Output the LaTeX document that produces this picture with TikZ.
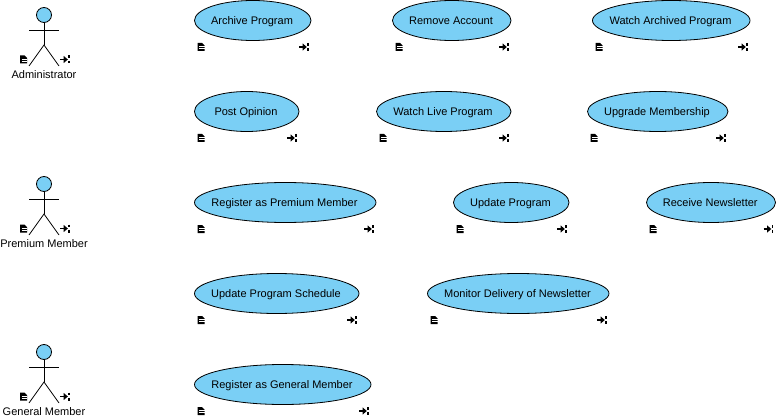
\documentclass[tikz,border=0pt]{standalone}
\usepackage{fontspec}
\setmainfont{Liberation Sans}
\definecolor{ucfill}{RGB}{122,207,245}
\usetikzlibrary{shapes.geometric}
\tikzset{
  x=1pt,y=-1pt,
  usecase/.style={draw=black,fill=ucfill,ellipse,line width=0.8pt,inner sep=0pt,font=\fontsize{11}{13}\selectfont},
  actorlabel/.style={font=\fontsize{11}{13}\selectfont,inner sep=0pt},
  stick/.style={draw=black,line width=0.8pt},
  pics/docicon/.style={code={
    \fill[black] (0,0) -- (4.5,0) -- (7,2.5) -- (7,8) -- (0,8) -- cycle;
    \draw[white,line width=0.7pt] (1.5,3.6) -- (7,3.6) (1.5,5.4) -- (7,5.4);
  }},
  pics/exiticon/.style={code={
    \draw[black,line width=1.6pt] (0,4) -- (6,4);
    \fill[black] (3.6,0.4) -- (7.8,4) -- (3.6,7.6) -- cycle;
    \draw[black,line width=1.4pt] (9,0) -- (9,2.6) (9,5.4) -- (9,8);
  }}
}
% name, left, right, top, text
\newcommand{\usecasebox}[5]{%
  \node[usecase,minimum width=#3pt-#2pt,minimum height=40pt] (#1) at ({(#2+#3)/2},{#4+20}) {\raisebox{-3.8pt}[0pt][0pt]{\makebox[0pt]{\hspace{-1.5pt}#5}}};
  \pic at (#2+3,#4+42.5) {docicon};
  \pic at (#3-12,#4+42.5) {exiticon};
}
% name, y offset, label offset, label
\newcommand{\actorfig}[4]{%
  \coordinate (#1hip) at (44,#2+45);
  \coordinate (#1la) at (29,#2+30);
  \coordinate (#1ra) at (59,#2+30);
  \coordinate (#1ll) at (29,#2+66);
  \coordinate (#1rl) at (59,#2+66);
  \node[draw=black,fill=ucfill,circle,line width=0.8pt,minimum size=15pt,inner sep=0pt] (#1head) at (44,#2+15) {};
  \draw[stick] (#1head.south) -- (#1hip);
  \draw[stick] (#1la) -- (#1ra);
  \draw[stick] (#1ll) -- (#1hip) -- (#1rl);
  \node[actorlabel] (#1label) at (44,#3) {#4};
  \pic at (20,#2+55.5) {docicon};
  \pic at (60,#2+55.5) {exiticon};
}
\begin{document}
\begin{tikzpicture}
\useasboundingbox (0,0) rectangle (776,417);
\actorfig{adm}{0}{74.5}{Administrator}
\actorfig{pre}{169}{243.5}{Premium Member}
\actorfig{gen}{337}{412}{General Member}
\usecasebox{a}{194.5}{311}{0.5}{Archive Program}
\usecasebox{b}{392.5}{511}{0.5}{Remove Account}
\usecasebox{c}{592.5}{750}{0.5}{Watch Archived Program}
\usecasebox{d}{194.5}{299}{91.5}{Post Opinion}
\usecasebox{e}{376.5}{511}{91.5}{Watch Live Program}
\usecasebox{f}{587.5}{728}{91.5}{Upgrade Membership}
\usecasebox{g}{194.5}{376}{182.5}{Register as Premium Member}
\usecasebox{h}{453.5}{569}{182.5}{Update Program}
\usecasebox{i}{646.5}{775.5}{182.5}{Receive Newsletter}
\usecasebox{j}{194.5}{359}{273.5}{Update Program Schedule}
\usecasebox{k}{427.5}{609}{273.5}{Monitor Delivery of Newsletter}
\usecasebox{l}{194.5}{371}{364.5}{Register as General Member}
\end{tikzpicture}
\end{document}
